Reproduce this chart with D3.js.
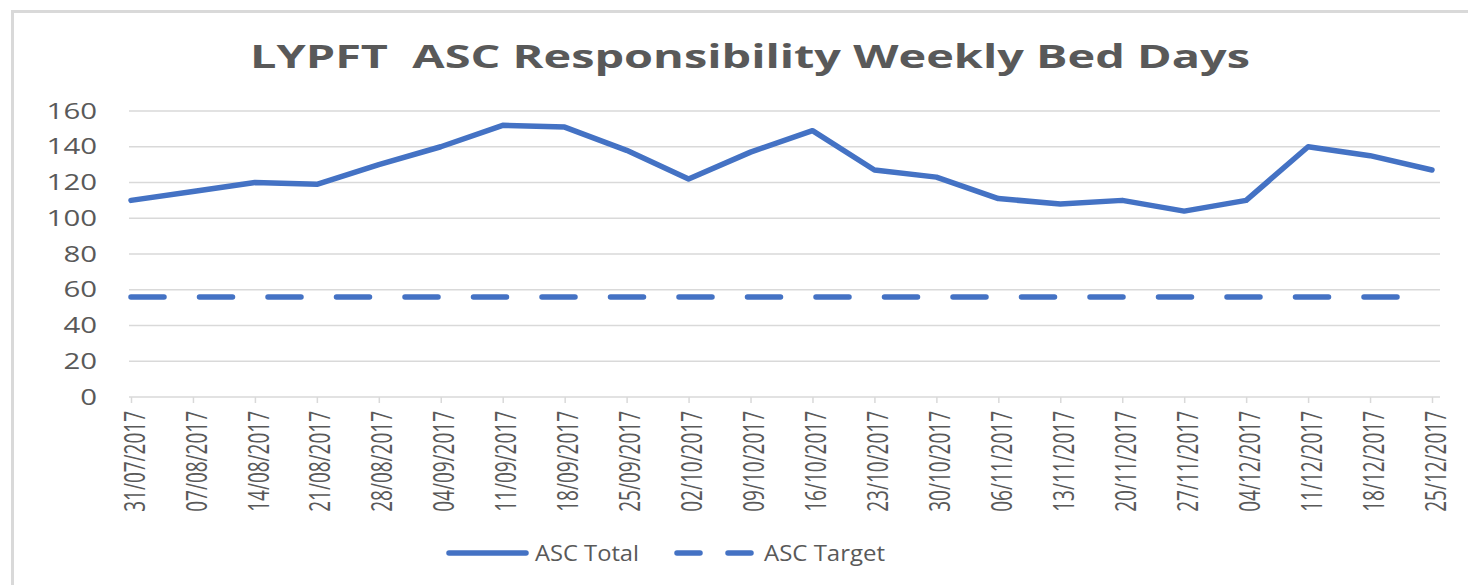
<!DOCTYPE html>
<html>
<head>
<meta charset="utf-8">
<script src="https://cdn.jsdelivr.net/npm/d3@7"></script>
<style>
  body { margin: 0; background: #fff; }
  svg { display: block; font-family: "Open Sans", sans-serif; }
</style>
</head>
<body>
<div id="chart"></div>
<script>
// Data
const weeks = ["31/07/2017", "07/08/2017", "14/08/2017", "21/08/2017", "28/08/2017", "04/09/2017",
  "11/09/2017", "18/09/2017", "25/09/2017", "02/10/2017", "09/10/2017", "16/10/2017",
  "23/10/2017", "30/10/2017", "06/11/2017", "13/11/2017", "20/11/2017", "27/11/2017",
  "04/12/2017", "11/12/2017", "18/12/2017", "25/12/2017"];
const ascTotal = [110, 115, 120, 119, 130, 140, 152, 151, 138, 122, 137, 149,
  127, 123, 111, 108, 110, 104, 110, 140, 135, 127];
const ascTarget = [56, 56, 56, 56, 56, 56, 56, 56, 56, 56, 56, 56,
  56, 56, 56, 56, 56, 56, 56, 56, 56, 56];
const yTicks = [0, 20, 40, 60, 80, 100, 120, 140, 160];

const width = 1468, height = 585;
const stretch = 1.4; // text in the picture is widened horizontally
const blue = "#4472c4", grey = "#595959", grid = "#d9d9d9";

const svg = d3.select("#chart").append("svg")
  .attr("width", width)
  .attr("height", height);

// Outer chart border
svg.append("rect")
  .attr("x", 12.5).attr("y", 11.5)
  .attr("width", 1480).attr("height", 600)
  .attr("fill", "none")
  .attr("stroke", grid)
  .attr("stroke-width", 3);

// Scales
const x = d3.scalePoint().domain(weeks).range([131, 1432]);
const y = d3.scaleLinear().domain([0, 160]).range([397, 111]);

// Gridlines
svg.append("g")
  .selectAll("line")
  .data(yTicks.filter(d => d > 0))
  .join("line")
  .attr("x1", 129).attr("x2", 1440)
  .attr("y1", d => y(d)).attr("y2", d => y(d))
  .attr("stroke", grid)
  .attr("stroke-width", 1.3);

// Y labels
svg.append("g")
  .selectAll("text")
  .data(yTicks)
  .join("text")
  .attr("transform", d => `translate(97,${y(d)}) scale(${stretch},1)`)
  .attr("dy", "0.36em")
  .attr("text-anchor", "end")
  .attr("fill", grey)
  .style("font-size", "21px")
  .text(d => d);

// X axis
const xAxis = svg.append("g")
  .attr("transform", `translate(0,${y(0)})`)
  .call(d3.axisBottom(x).tickSize(6).tickSizeOuter(0).tickFormat(""));
xAxis.select(".domain").remove();
xAxis.selectAll(".tick line").attr("stroke", grid).attr("stroke-width", 1.5);
xAxis.append("line")
  .attr("x1", 129).attr("x2", 1440)
  .attr("stroke", grid).attr("stroke-width", 1.5);

svg.append("g")
  .selectAll("text")
  .data(weeks)
  .join("text")
  .attr("transform", d => `translate(${x(d) + 3},411) scale(1.55,1) rotate(-90)`)
  .attr("dy", "0.36em")
  .attr("text-anchor", "end")
  .attr("fill", grey)
  .style("font-size", "19px")
  .text(d => d);

// Lines
const line = d3.line()
  .x((d, i) => x(weeks[i]))
  .y(d => y(d));

svg.append("path")
  .datum(ascTarget)
  .attr("d", line)
  .attr("fill", "none")
  .attr("stroke", blue)
  .attr("stroke-width", 5.5)
  .attr("stroke-linecap", "round")
  .attr("stroke-dasharray", "33,35.5");

svg.append("path")
  .datum(ascTotal)
  .attr("d", line)
  .attr("fill", "none")
  .attr("stroke", blue)
  .attr("stroke-width", 5.5)
  .attr("stroke-linejoin", "round")
  .attr("stroke-linecap", "round");

// Title
svg.append("text")
  .attr("x", 250)
  .attr("y", 68)
  .attr("textLength", 1000)
  .attr("lengthAdjust", "spacingAndGlyphs")
  .attr("fill", grey)
  .style("font-size", "33px")
  .style("font-weight", "bold")
  .style("white-space", "pre")
  .text("LYPFT  ASC Responsibility Weekly Bed Days");

// Legend
const legend = svg.append("g");
legend.append("line")
  .attr("x1", 449).attr("x2", 526)
  .attr("y1", 553).attr("y2", 553)
  .attr("stroke", blue).attr("stroke-width", 5.5)
  .attr("stroke-linecap", "round");
legend.append("text")
  .attr("x", 535).attr("y", 561)
  .attr("textLength", 104)
  .attr("lengthAdjust", "spacingAndGlyphs")
  .attr("fill", grey)
  .style("font-size", "22px")
  .text("ASC Total");
legend.append("line")
  .attr("x1", 677).attr("x2", 752)
  .attr("y1", 553).attr("y2", 553)
  .attr("stroke", blue).attr("stroke-width", 5.5)
  .attr("stroke-linecap", "round")
  .attr("stroke-dasharray", "23,28");
legend.append("text")
  .attr("x", 764).attr("y", 561)
  .attr("textLength", 121)
  .attr("lengthAdjust", "spacingAndGlyphs")
  .attr("fill", grey)
  .style("font-size", "22px")
  .text("ASC Target");
</script>
</body>
</html>
